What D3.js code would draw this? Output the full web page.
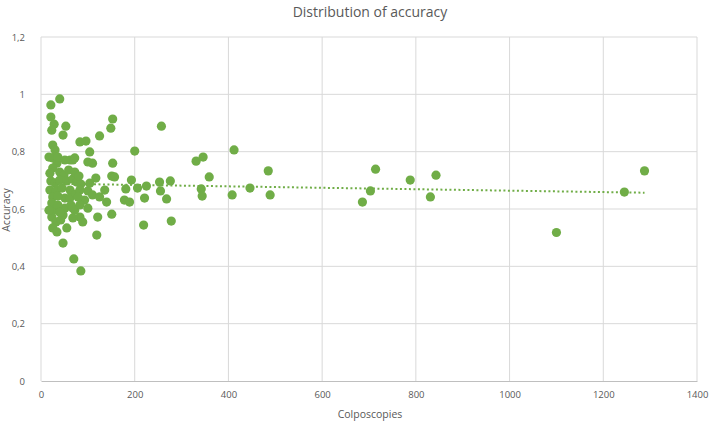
<!DOCTYPE html>
<html>
<head>
<meta charset="utf-8">
<script src="https://cdn.jsdelivr.net/npm/d3@7"></script>
<style>
  body { margin: 0; background: #fff; }
  text { font-family: "Open Sans", sans-serif; }
</style>
</head>
<body>
<div id="chart"></div>
<script>
// Values
var colposcopies = [21, 40, 21, 28, 23, 53, 47, 83, 96, 125, 149, 153, 104, 200, 25, 30, 25, 34, 62, 68,
  110, 153, 25, 40, 49, 151, 157, 117, 193, 21, 30, 40, 55, 68, 76, 85, 100, 19, 32, 45,
  62, 25, 23, 28, 23, 51, 62, 64, 72, 93, 110, 125, 83, 100, 121, 51, 47, 83, 89, 32,
  25, 34, 55, 42, 68, 119, 47, 70, 85, 140, 178, 189, 221, 47, 68, 151, 219, 278, 136, 181,
  206, 225, 253, 276, 255, 268, 257, 412, 331, 346, 485, 359, 342, 344, 408, 446, 489, 714, 788, 843,
  703, 686, 831, 1100, 1245, 1288, 17, 36, 51, 72, 19, 59, 72, 81, 36, 74, 83, 17, 36, 40,
  100, 79, 104];
var accuracy = [0.963, 0.984, 0.921, 0.896, 0.875, 0.889, 0.858, 0.834, 0.837, 0.855, 0.882, 0.914, 0.799, 0.802, 0.823, 0.806, 0.778, 0.760, 0.771, 0.771,
  0.760, 0.760, 0.743, 0.729, 0.719, 0.715, 0.712, 0.708, 0.701, 0.698, 0.691, 0.701, 0.698, 0.705, 0.694, 0.687, 0.663, 0.666, 0.663, 0.673,
  0.666, 0.642, 0.621, 0.596, 0.572, 0.638, 0.638, 0.614, 0.596, 0.631, 0.649, 0.642, 0.614, 0.603, 0.572, 0.603, 0.579, 0.572, 0.555, 0.555,
  0.534, 0.520, 0.534, 0.562, 0.569, 0.509, 0.481, 0.426, 0.384, 0.624, 0.631, 0.624, 0.638, 0.600, 0.603, 0.582, 0.544, 0.558, 0.666, 0.670,
  0.673, 0.680, 0.694, 0.698, 0.663, 0.635, 0.889, 0.806, 0.767, 0.781, 0.733, 0.712, 0.670, 0.645, 0.649, 0.673, 0.649, 0.739, 0.701, 0.718,
  0.663, 0.624, 0.642, 0.518, 0.659, 0.733, 0.781, 0.781, 0.771, 0.778, 0.725, 0.736, 0.729, 0.715, 0.645, 0.652, 0.666, 0.596, 0.614, 0.589,
  0.764, 0.642, 0.690];
var xTicks = [0, 200, 400, 600, 800, 1000, 1200, 1400];
var yTicks = [0, 0.2, 0.4, 0.6, 0.8, 1, 1.2];
// Linear trendline
var trendIntercept = 0.689;
var trendSlope = -0.000025;

var width = 709;
var height = 424;
var margin = { top: 37, right: 12, bottom: 43, left: 41 };

var points = colposcopies.map(function (c, i) {
  return { x: c, y: accuracy[i] };
});

var svg = d3.select("#chart")
  .append("svg")
  .attr("width", width)
  .attr("height", height);

var xScale = d3.scaleLinear()
  .domain([0, 1400])
  .range([margin.left, width - margin.right]);

var yScale = d3.scaleLinear()
  .domain([0, 1.2])
  .range([height - margin.bottom, margin.top]);

var fmt = function (d) {
  return String(d).replace(".", ",");
};

// Gridlines
svg.append("g")
  .selectAll("line.h")
  .data(yTicks.filter(function (d) { return d > 0; }))
  .enter()
  .append("line")
  .attr("x1", margin.left)
  .attr("x2", width - margin.right)
  .attr("y1", function (d) { return yScale(d); })
  .attr("y2", function (d) { return yScale(d); })
  .attr("stroke", "#d9d9d9")
  .attr("stroke-width", 1);

svg.append("g")
  .selectAll("line.v")
  .data(xTicks)
  .enter()
  .append("line")
  .attr("x1", function (d) { return xScale(d); })
  .attr("x2", function (d) { return xScale(d); })
  .attr("y1", margin.top)
  .attr("y2", height - margin.bottom)
  .attr("stroke", "#d9d9d9")
  .attr("stroke-width", 1);

// x axis
var xAxis = d3.axisBottom(xScale)
  .tickValues(xTicks)
  .tickSize(0)
  .tickPadding(10)
  .tickFormat(fmt);

var gx = svg.append("g")
  .attr("transform", "translate(0," + (height - margin.bottom) + ")")
  .call(xAxis);
gx.select(".domain").attr("stroke", "#bfbfbf");
gx.selectAll("text").attr("fill", "#595959").style("font-size", "9.5px");

// y axis
var yAxis = d3.axisLeft(yScale)
  .tickValues(yTicks)
  .tickSize(0)
  .tickPadding(16)
  .tickFormat(fmt);

var gy = svg.append("g")
  .attr("transform", "translate(" + margin.left + ",0)")
  .call(yAxis);
gy.select(".domain").remove();
gy.selectAll("text").attr("fill", "#595959").style("font-size", "9.5px");

// Points
svg.append("g")
  .selectAll("circle")
  .data(points)
  .enter()
  .append("circle")
  .attr("cx", function (d) { return xScale(d.x); })
  .attr("cy", function (d) { return yScale(d.y); })
  .attr("r", 4.6)
  .attr("fill", "#70ad47");

// Dotted trendline across the data range
var xMin = d3.min(colposcopies);
var xMax = d3.max(colposcopies);
svg.append("line")
  .attr("x1", xScale(xMin))
  .attr("x2", xScale(xMax))
  .attr("y1", yScale(trendIntercept + trendSlope * xMin))
  .attr("y2", yScale(trendIntercept + trendSlope * xMax))
  .attr("stroke", "#70ad47")
  .attr("stroke-width", 2)
  .attr("stroke-dasharray", "2,2.5");

// Title and axis labels
svg.append("text")
  .attr("x", 370)
  .attr("y", 17)
  .attr("text-anchor", "middle")
  .attr("fill", "#595959")
  .style("font-size", "14px")
  .text("Distribution of accuracy");

svg.append("text")
  .attr("x", 370)
  .attr("y", 418)
  .attr("text-anchor", "middle")
  .attr("fill", "#595959")
  .style("font-size", "10.5px")
  .text("Colposcopies");

svg.append("text")
  .attr("transform", "translate(10," + 210 + ")rotate(-90)")
  .attr("text-anchor", "middle")
  .attr("fill", "#595959")
  .style("font-size", "10.5px")
  .text("Accuracy");
</script>
</body>
</html>
